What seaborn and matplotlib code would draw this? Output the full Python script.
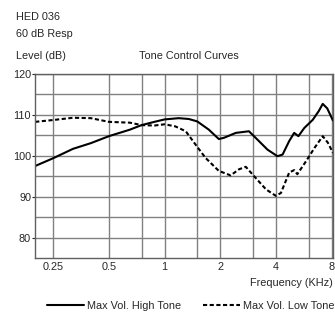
import pandas as pd
import seaborn as sns
import matplotlib.pyplot as plt
from matplotlib.ticker import FixedLocator, NullFormatter

# Values (frequency in kHz, level in dB)
high_freq = [0.2, 0.25, 0.32, 0.4, 0.5, 0.65, 0.75, 0.88, 1.0, 1.19, 1.35, 1.5,
             1.73, 1.96, 2.09, 2.42, 2.85, 3.16, 3.59, 4.06, 4.33, 4.7, 5.0,
             5.27, 5.67, 6.3, 6.8, 7.13, 7.54, 8.1]
high_level = [97.5, 99.4, 101.7, 103.1, 104.8, 106.4, 107.5, 108.3, 108.9, 109.2,
              109.0, 108.4, 106.4, 104.1, 104.4, 105.6, 106.0, 104.0, 101.5, 99.9,
              100.3, 103.6, 105.6, 104.8, 106.8, 108.8, 111.0, 112.7, 111.6, 108.6]

low_freq = [0.2, 0.25, 0.32, 0.4, 0.5, 0.65, 0.75, 0.88, 1.0, 1.14, 1.3, 1.47,
            1.66, 1.96, 2.27, 2.52, 2.74, 3.04, 3.52, 3.98, 4.24, 4.7, 5.0, 5.2,
            5.8, 6.43, 7.13, 7.6, 8.1]
low_level = [108.3, 108.75, 109.3, 109.2, 108.3, 108.1, 107.5, 107.4, 107.7, 107.2,
             106.0, 102.7, 99.5, 96.3, 95.2, 96.7, 97.3, 95.0, 91.8, 90.2, 90.9,
             95.9, 96.5, 95.5, 98.7, 101.9, 104.8, 103.2, 100.7]

series_names = ['Max Vol. High Tone', 'Max Vol. Low Tone']
x_ticks = [0.25, 0.5, 1, 2, 4, 8]
x_tick_labels = ['0.25', '0.5', '1', '2', '4', '8']
x_minor = [0.75, 1.5, 3, 6]

df = pd.concat([
    pd.DataFrame({'freq': high_freq, 'level': high_level, 'series': series_names[0]}),
    pd.DataFrame({'freq': low_freq, 'level': low_level, 'series': series_names[1]}),
])

sns.set_style('white')
plt.rcParams['font.family'] = ['Liberation Sans Narrow', 'Liberation Sans', 'DejaVu Sans']
plt.rcParams['font.size'] = 7.8
fs = 7.8

fig = plt.figure(figsize=(3.35, 3.15), dpi=100)
ax = fig.add_axes([0.105, 0.181, 0.889, 0.584])

sns.lineplot(data=df, x='freq', y='level', style='series', ax=ax,
             color='black', linewidth=1.5, sort=False,
             dashes={series_names[0]: '', series_names[1]: (2, 1.2)},
             legend=False)

ax.set_xscale('log')
ax.set_xlim(0.2, 8.1)
ax.set_ylim(75, 120)
ax.xaxis.set_major_locator(FixedLocator(x_ticks))
ax.set_xticklabels(x_tick_labels)
ax.xaxis.set_minor_locator(FixedLocator(x_minor))
ax.xaxis.set_minor_formatter(NullFormatter())
ax.set_yticks([80, 90, 100, 110, 120])
ax.set_yticks([85, 95, 105, 115], minor=True)
ax.grid(True, which='both', color='#808080', linewidth=1.0)
ax.tick_params(axis='y', which='major', length=2, width=0.8, pad=1, left=True,
               labelsize=fs)
ax.tick_params(axis='y', which='minor', length=0)
ax.tick_params(axis='x', which='both', length=0, pad=3, labelsize=fs)
for s in ax.spines.values():
    s.set_color('#606060')
    s.set_linewidth(1.0)

ax.set_xlabel('')
ax.set_ylabel('')

fig.text(0.048, 0.945, 'HED 036', ha='left', va='center', fontsize=fs)
fig.text(0.048, 0.892, '60 dB Resp', ha='left', va='center', fontsize=fs)
fig.text(0.048, 0.823, 'Level (dB)', ha='left', va='center', fontsize=fs)
fig.text(0.565, 0.823, 'Tone Control Curves', ha='center', va='center', fontsize=fs)
fig.text(0.994, 0.10, 'Frequency (KHz)', ha='right', va='center', fontsize=fs)

handles = [plt.Line2D([], [], color='black', lw=1.5),
           plt.Line2D([], [], color='black', lw=1.5, dashes=(2, 1.2))]
fig.legend(handles, series_names, loc='center', bbox_to_anchor=(0.57, 0.03),
           ncol=2, frameon=False, handlelength=3.4, handletextpad=0.3,
           columnspacing=2.0, fontsize=fs, borderpad=0)

fig.savefig('out.png', dpi=100)
